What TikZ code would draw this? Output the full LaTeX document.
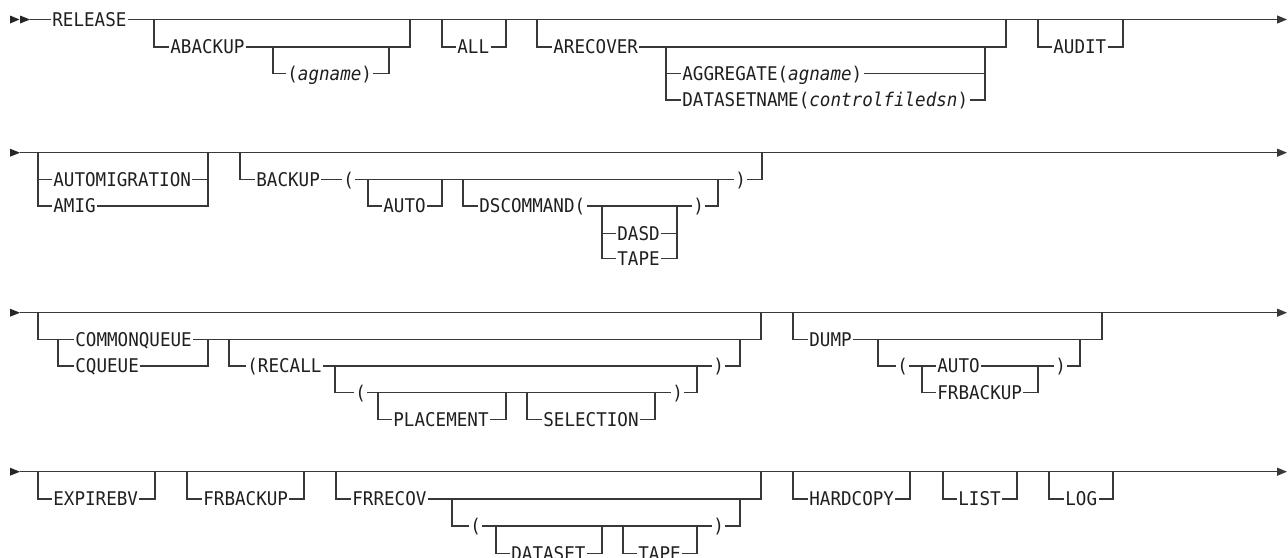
\documentclass[tikz,border=0pt]{standalone}
\usepackage{fontspec}
\setmonofont{DejaVu Sans Mono}[FakeStretch=0.93]
\usetikzlibrary{arrows.meta}
\tikzset{
  rail/.style={line width=1.1pt, draw=black!78},
  lbl/.style={inner xsep=1.2pt, inner ysep=0pt, anchor=west, text height=15.8pt, text depth=2pt,
              font=\ttfamily\fontsize{18.9}{22}\selectfont, text=black!88},
  endarrow/.style={-{Triangle[length=10pt,width=8pt]}},
  tipfill/.style={fill=black!85}
}
% #1 name, #2 left x, #3 right x, #4 upper y, #5 lower y, #6 text x, #7 text
\newcommand\optb[7]{%
  \coordinate (#1-in) at (#2,#4);
  \coordinate (#1-out) at (#3,#4);
  \node[lbl] (#1) at (#6,#5) {#7};
  \draw[rail] (#1-in) |- (#1.west);
  \draw[rail] (#1.east) -| (#1-out);
}
\begin{document}
\begin{tikzpicture}[x=1pt,y=-1pt]
\path[use as bounding box] (0,0) rectangle (1288,557);

% ---------------- Row 1 ----------------
\fill[tipfill] (10,15.5) -- (19.5,19.5) -- (10,23.5) -- cycle;
\fill[tipfill] (20,15.5) -- (30,19.5) -- (20,23.5) -- cycle;
\coordinate (s1) at (30,19.5);
\coordinate (e1) at (1287,19.5);
\node[lbl] (release) at (51,19.5) {RELEASE};
\draw[rail] (s1) -- (release.west);
\draw[rail,endarrow] (release.east) -- (e1);
\optb{abackup}{154}{410}{19.5}{47}{169}{ABACKUP}
\optb{agname}{273}{389}{47}{73.3}{286}{(\textit{agname})}
\optb{all}{442}{506}{19.5}{47}{456}{ALL}
\optb{arecover}{537}{1006}{19.5}{47}{552}{ARECOVER}
\optb{aggr}{666}{985}{47}{73.3}{681}{AGGREGATE(\textit{agname})}
\optb{dsn}{666}{985}{47}{100}{681}{DATASETNAME(\textit{controlfiledsn})}
\optb{audit}{1038}{1123}{19.5}{47}{1052}{AUDIT}

% ---------------- Row 2 ----------------
\fill[tipfill] (10,148.7) -- (20,152.7) -- (10,156.7) -- cycle;
\coordinate (s2) at (20,152.7);
\coordinate (e2) at (1287,152.7);
\draw[rail,endarrow] (s2) -- (e2);
\optb{automig}{38}{208}{152.7}{179.3}{52}{AUTOMIGRATION}
\optb{amig}{38}{208}{152.7}{206}{52}{AMIG}
\coordinate (bk-in) at (240,152.7);
\coordinate (bk-out) at (762,152.7);
\node[lbl] (backup) at (255,179.3) {BACKUP};
\node[lbl] (bklp) at (342,179.3) {(};
\node[lbl] (bkrp) at (734,179.3) {)};
\draw[rail] (bk-in) |- (backup.west);
\draw[rail] (backup.east) -- (bklp.west);
\draw[rail] (bklp.east) -- (bkrp.west);
\draw[rail] (bkrp.east) -| (bk-out);
\optb{auto}{368}{442}{179.3}{206}{382}{AUTO}
\coordinate (ds-in) at (463,179.3);
\coordinate (ds-out) at (718,179.3);
\node[lbl] (dscmd) at (478,206) {DSCOMMAND(};
\node[lbl] (dsrp) at (692,206) {)};
\draw[rail] (ds-in) |- (dscmd.west);
\draw[rail] (dscmd.east) -- (dsrp.west);
\draw[rail] (dsrp.east) -| (ds-out);
\optb{dasd}{602}{677}{206}{233.3}{616}{DASD}
\optb{tape}{602}{677}{206}{258.3}{616}{TAPE}

% ---------------- Row 3 ----------------
\fill[tipfill] (10,308.7) -- (20,312.7) -- (10,316.7) -- cycle;
\coordinate (s3) at (20,312.7);
\coordinate (e3) at (1287,312.7);
\draw[rail,endarrow] (s3) -- (e3);
\coordinate (cq-in) at (38,312.7);
\coordinate (cq-out) at (761,312.7);
\node[lbl] (cq) at (74,339.3) {COMMONQUEUE};
\draw[rail] (cq-in) |- (cq.west);
\draw[rail] (cq.east) -| (cq-out);
\coordinate (cqs) at (58,339.3);
\coordinate (cqj) at (208,339.3);
\node[lbl] (cqq) at (74,366) {CQUEUE};
\draw[rail] (cqs) |- (cqq.west);
\draw[rail] (cqq.east) -| (cqj);
\coordinate (rc-in) at (229,339.3);
\coordinate (rc-out) at (740,339.3);
\node[lbl] (recall) at (246,366) {(RECALL};
\node[lbl] (rcrp) at (712,366) {)};
\draw[rail] (rc-in) |- (recall.west);
\draw[rail] (recall.east) -- (rcrp.west);
\draw[rail] (rcrp.east) -| (rc-out);
\coordinate (rp-in) at (335,366);
\coordinate (rp-out) at (697,366);
\node[lbl] (rplp) at (354,392.7) {(};
\node[lbl] (rprp) at (671,392.7) {)};
\draw[rail] (rp-in) |- (rplp.west);
\draw[rail] (rplp.east) -- (rprp.west);
\draw[rail] (rprp.east) -| (rp-out);
\optb{place}{378}{506}{392.7}{419.3}{392}{PLACEMENT}
\optb{select}{527}{655}{392.7}{419.3}{542}{SELECTION}
\optb{dump}{793}{1102}{312.7}{339.3}{808}{DUMP}
\coordinate (du-in) at (878,339.3);
\coordinate (du-out) at (1080,339.3);
\node[lbl] (dulp) at (896,366) {(};
\node[lbl] (dauto) at (936,366) {AUTO};
\node[lbl] (durp) at (1054,366) {)};
\draw[rail] (du-in) |- (dulp.west);
\draw[rail] (dulp.east) -- (dauto.west);
\draw[rail] (dauto.east) -- (durp.west);
\draw[rail] (durp.east) -| (du-out);
\optb{dfrb}{922}{1038}{366}{392.7}{936}{FRBACKUP}

% ---------------- Row 4 ----------------
\fill[tipfill] (10,467.7) -- (20,471.7) -- (10,475.7) -- cycle;
\coordinate (s4) at (20,471.7);
\coordinate (e4) at (1287,471.7);
\draw[rail,endarrow] (s4) -- (e4);
\optb{expire}{38}{155}{471.7}{499}{52}{EXPIREBV}
\optb{frbackup}{187}{304}{471.7}{499}{202}{FRBACKUP}
\optb{frrecov}{336}{761}{471.7}{499}{351}{FRRECOV}
\coordinate (fr-in) at (452,499);
\coordinate (fr-out) at (740,499);
\node[lbl] (frlp) at (469,526) {(};
\node[lbl] (frrp) at (712,526) {)};
\draw[rail] (fr-in) |- (frlp.west);
\draw[rail] (frlp.east) -- (frrp.west);
\draw[rail] (frrp.east) -| (fr-out);
\optb{dataset}{496}{602}{526}{553.3}{510}{DATASET}
\optb{ftape}{623}{697}{526}{553.3}{637}{TAPE}
\optb{hardcopy}{793}{910}{471.7}{499}{808}{HARDCOPY}
\optb{list}{943}{1017}{471.7}{499}{957}{LIST}
\optb{log}{1049}{1113}{471.7}{499}{1064}{LOG}
\end{tikzpicture}
\end{document}
